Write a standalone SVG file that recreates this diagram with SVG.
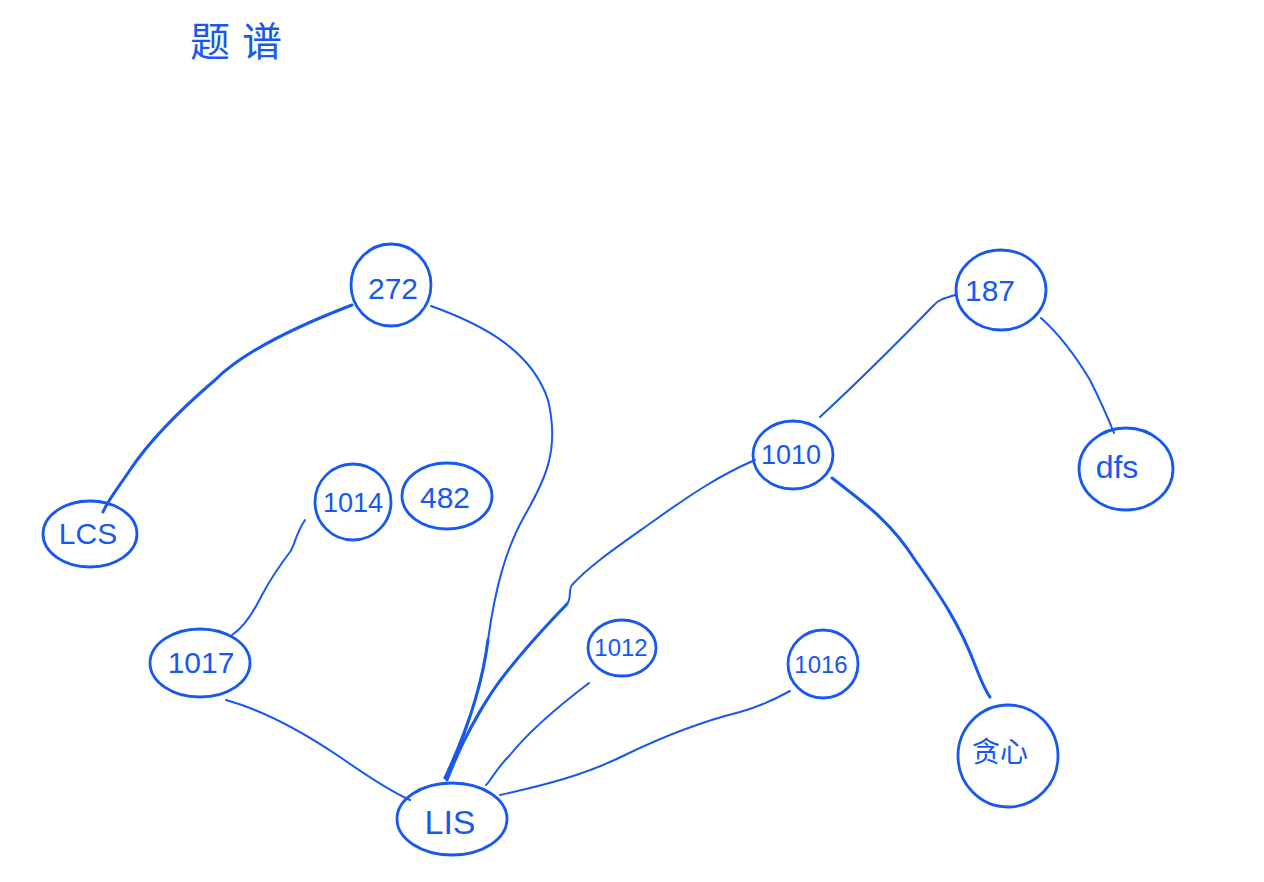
<svg xmlns="http://www.w3.org/2000/svg" width="1264" height="882" viewBox="0 0 1264 882">
<style>
.n{fill:none;stroke:#1758ef;stroke-width:2.8;stroke-linecap:round;stroke-linejoin:round}
.e{fill:none;stroke:#1758ef;stroke-width:2;stroke-linecap:round;stroke-linejoin:round}
.t{fill:#1758ef;font-family:"Liberation Sans","Noto Sans CJK SC",sans-serif;font-size:30px;text-anchor:middle;dominant-baseline:central}
.h{fill:#1758ef;font-family:"Noto Sans CJK SC",sans-serif;font-size:40px;letter-spacing:12px}
</style>
<rect width="1264" height="882" fill="#ffffff"/>
<text class="h" x="190" y="56">题谱</text>
<g id="edges">
<path class="e" style="stroke-width:3" d="M352,305 C300,325 245,350 215,380 C180,410 150,440 130,470 C118,488 108,500 103,512"/>
<path class="e" d="M431,306 C470,320 530,345 548,400 C560,450 545,480 525,515 C505,550 495,590 488,640 C480,690 470,720 455,760"/>
<path class="e" style="stroke-width:3" d="M488,640 C482,690 465,735 445,778"/>
<path class="e" d="M305,520 C295,535 295,545 290,552 C280,565 270,580 262,595 C252,615 243,628 232,635"/>
<path class="e" d="M226,700 C262,710 300,730 340,757 C370,778 392,792 410,800"/>
<path class="e" d="M755,460 C720,475 690,495 655,520 C620,545 590,565 572,585 C568,590 572,598 567,604 C540,632 520,655 500,680 C480,710 465,740 448,770"/>
<path class="e" style="stroke-width:3" d="M567,604 C540,632 510,665 490,695 C470,725 458,752 447,780"/>
<path class="e" d="M589,683 C560,705 530,730 510,755 C495,770 490,782 486,785"/>
<path class="e" d="M790,691 C770,702 755,708 740,712 C700,722 660,738 625,755 C585,775 545,785 500,795"/>
<path class="e" d="M955,295 C945,298 938,300 934,305 C900,340 860,380 820,417"/>
<path class="e" d="M1041,318 C1060,335 1075,355 1090,380 C1100,400 1108,418 1114,433"/>
<path class="e" style="stroke-width:3" d="M832,478 C860,500 890,520 915,560 C940,595 960,625 975,665 C982,683 987,693 990,697"/>
</g>
<g id="n272"><ellipse class="n" cx="391" cy="285" rx="40" ry="41"/><text class="t" x="393" y="288">272</text></g>
<g id="nLCS"><ellipse class="n" cx="90" cy="534" rx="47" ry="33"/><text class="t" x="88" y="533">LCS</text></g>
<g id="n1014"><ellipse class="n" cx="353" cy="502" rx="38" ry="38"/><text class="t" x="353" y="503" style="font-size:27px">1014</text></g>
<g id="n482"><ellipse class="n" cx="447" cy="496" rx="45" ry="33"/><text class="t" x="445" y="497">482</text></g>
<g id="n1017"><ellipse class="n" cx="200" cy="663" rx="50" ry="34"/><text class="t" x="201" y="662">1017</text></g>
<g id="nLIS"><ellipse class="n" cx="452" cy="819" rx="55" ry="36"/><text class="t" x="450" y="822" style="font-size:34px">LIS</text></g>
<g id="n1012"><ellipse class="n" cx="622" cy="648" rx="34" ry="28"/><text class="t" x="621" y="647" style="font-size:24px">1012</text></g>
<g id="n1016"><ellipse class="n" cx="823" cy="664" rx="35" ry="34"/><text class="t" x="821" y="664" style="font-size:24px">1016</text></g>
<g id="n1010"><ellipse class="n" cx="793" cy="455" rx="40" ry="34"/><text class="t" x="791" y="455" style="font-size:27px">1010</text></g>
<g id="n187"><ellipse class="n" cx="1001" cy="290" rx="45" ry="40"/><text class="t" x="990" y="290">187</text></g>
<g id="ndfs"><ellipse class="n" cx="1126" cy="469" rx="47" ry="41"/><text class="t" x="1117" y="467" style="font-size:32px">dfs</text></g>
<g id="n贪心"><ellipse class="n" cx="1008" cy="756" rx="50" ry="51"/><text class="t" x="1000" y="752" style="font-size:28px">贪心</text></g>
</svg>
